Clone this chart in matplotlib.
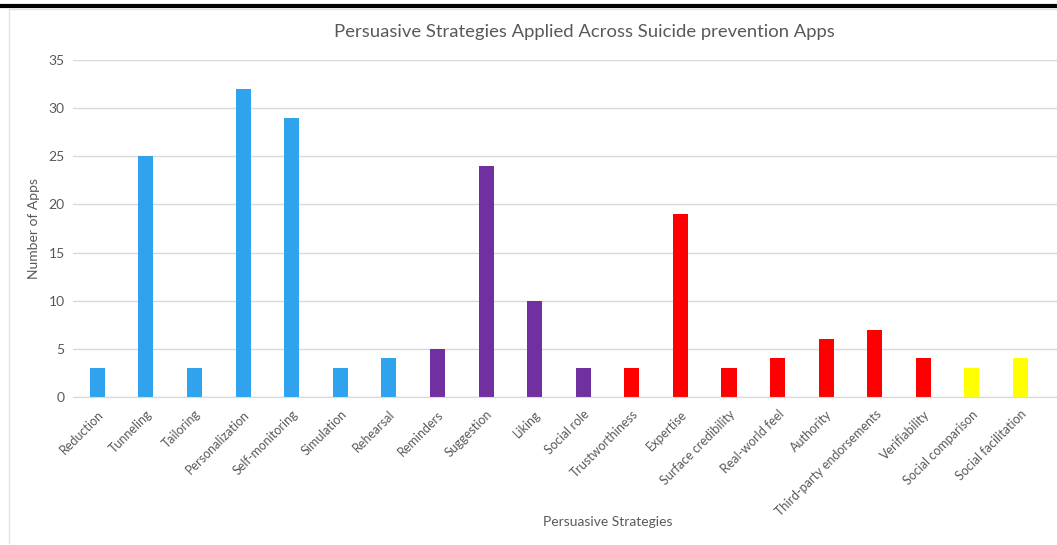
import matplotlib
matplotlib.use("Agg")
import matplotlib.pyplot as plt
from matplotlib.lines import Line2D

strategies = ["Reduction", "Tunneling", "Tailoring", "Personalization", "Self-monitoring",
              "Simulation", "Rehearsal", "Reminders", "Suggestion", "Liking", "Social role",
              "Trustworthiness", "Expertise", "Surface credibility", "Real-world feel",
              "Authority", "Third-party endorsements", "Verifiability", "Social comparison",
              "Social facilitation"]
num_apps = [3, 25, 3, 32, 29, 3, 4, 5, 24, 10, 3, 3, 19, 3, 4, 6, 7, 4, 3, 4]
groups = ["primary"] * 7 + ["dialogue"] * 4 + ["credibility"] * 7 + ["social"] * 2
group_colors = {"primary": "#2FA3EE", "dialogue": "#7030A0",
                "credibility": "#FF0000", "social": "#FFFF00"}
y_ticks = [0, 5, 10, 15, 20, 25, 30, 35]

plt.rcParams["font.family"] = ["Lato", "DejaVu Sans"]
text_color = "#595959"
W, H = 1057, 545
fig = plt.figure(figsize=(W / 100, H / 100), dpi=100)

ax = fig.add_axes([73 / W, 1 - 397 / H, (1057 - 73) / W, (397 - 60) / H])
x = list(range(len(strategies)))
ax.bar(x, num_apps, width=0.31, color=[group_colors[g] for g in groups], zorder=3)
ax.set_xlim(-0.5, 19.75)
ax.set_ylim(0, 35)
ax.set_yticks(y_ticks)
ax.set_yticklabels([str(v) for v in y_ticks], fontsize=10, color=text_color)
ax.set_xticks(x)
ax.set_xticklabels(strategies, rotation=45, ha="right", rotation_mode="anchor",
                   fontsize=9, color=text_color)
ax.tick_params(axis="both", length=0, pad=6)
ax.tick_params(axis="x", pad=8)
ax.grid(axis="y", color="#D9D9D9", linewidth=1, zorder=0)
for side in ["top", "right", "left"]:
    ax.spines[side].set_visible(False)
ax.spines["bottom"].set_color("#D9D9D9")
ax.spines["bottom"].set_zorder(4)

ax.set_ylabel("Number of Apps", fontsize=10, color=text_color, labelpad=6)
fig.text(608 / W, 1 - 522 / H, "Persuasive Strategies", fontsize=10,
         color=text_color, ha="center", va="center")
fig.text(584 / W, 1 - 32 / H, "Persuasive Strategies Applied Across Suicide prevention Apps",
         fontsize=13.3, color=text_color, ha="center", va="center")

# frame lines around the chart
fig.add_artist(Line2D([0, 1], [1 - 5.5 / H, 1 - 5.5 / H], transform=fig.transFigure,
                      color="black", linewidth=3))
fig.add_artist(Line2D([9 / W, 9 / W], [1 - 9 / H, 1 - 543 / H], transform=fig.transFigure,
                      color="#E3E3E3", linewidth=1))
fig.add_artist(Line2D([9 / W, 1], [1 - 9 / H, 1 - 9 / H], transform=fig.transFigure,
                      color="#E3E3E3", linewidth=1))

fig.savefig("out.png", dpi=100)
